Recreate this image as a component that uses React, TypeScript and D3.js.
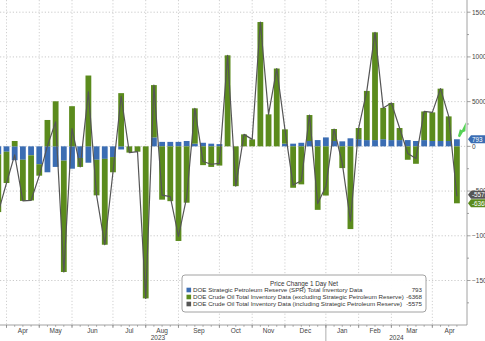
import React from "react";
import * as d3 from "d3";

const W = 485;
const H = 341;

// weekly categories: first (partially visible) bar is dated 2023-03-31, one bar per week
const FIRST_WEEK = new Date(2023, 2, 31);

// DOE Strategic Petroleum Reserve weekly change (thousand bbl)
const sprChange = [
  -900, -600, -1550, -1500, -1000, -2000, -2900, -2300, -1600, -2500,
  -1300, -1830, -1500, -1400, -1200, -350, 0, 0, 0, 1000,
  500, 500, 500, 600, 300, 400, 300, 250, 0, 0,
  0, 0, 0, 0, 0, 300, 300, 400, 600, 700,
  1000, 600, 560, 900, 800, 700, 700, 800, 700, 700,
  700, 600, 700, 600, 600, 600, 793,
];

// DOE crude oil total inventory excluding SPR, weekly change (thousand bbl)
const crudeExSpr = [
  -6450, -3500, 600, -4600, -5050, -1280, 2950, 5040, -12450, 4490,
  -1000, 7920, -3980, -9600, -1700, 5950, -700, -600, -17000, 5850,
  -5960, -6130, -10580, -6300, 3950, -2100, -2300, -2150, 10180, -4450,
  1340, 780, 13900, 3580, 8700, 1600, -4630, -4250, 2900, -7100,
  -5500, 1340, -2430, -9250, 1250, 5500, 12050, 3500, 4150, 1350,
  -1500, -1950, 3200, 3200, 5850, 2750, -6368,
];

const yTicks = [-15000, -10000, -5000, 0, 5000, 10000, 15000];
const legendTitle = "Price Change 1 Day Net";
const seriesNames = [
  "DOE Strategic Petroleum Reserve (SPR) Total Inventory Data",
  "DOE Crude Oil Total Inventory Data (excluding Strategic Petroleum Reserve)",
  "DOE Crude Oil Total Inventory Data (including Strategic Petroleum Reserve)",
];
const lastValues = [793, -6368, -5575];

const BLUE = "#3b6db3";
const GREEN = "#5b8b1d";
const GREY = "#555555";
const FONT = "Liberation Sans, Arial, sans-serif";

export default function App() {
  const dates = sprChange.map((_, i) => d3.timeDay.offset(FIRST_WEEK, 7 * i));
  const totals = sprChange.map((s, i) => s + crudeExSpr[i]);

  const plotRight = 467;
  const axisY = 325;

  const x = d3
    .scaleTime()
    .domain([dates[1], dates[dates.length - 1]])
    .range([6.5, 456.9]);
  const y = d3.scaleLinear().domain([-15000, 15000]).range([280.5, 12.2]);

  const bw = 5.8;

  // stacked segments
  const segs: { x: number; y0: number; y1: number; c: string }[] = [];
  dates.forEach((d, i) => {
    const s = sprChange[i];
    const e = crudeExSpr[i];
    const xc = x(d);
    if (s !== 0) segs.push({ x: xc, y0: 0, y1: s, c: BLUE });
    if (e !== 0) {
      const base = Math.sign(e) === Math.sign(s) ? s : 0;
      segs.push({ x: xc, y0: base, y1: base + e, c: GREEN });
    }
  });

  const line = d3
    .line<number>()
    .x((_, i) => x(dates[i]))
    .y((v) => y(v));

  // month gridlines: first bar of each month
  const monthIdx: number[] = [];
  dates.forEach((d, i) => {
    if (i > 0 && d.getMonth() !== dates[i - 1].getMonth()) monthIdx.push(i);
  });
  const gridX = monthIdx.map((i) => x(dates[i]));
  const monthLabels = monthIdx.map((i, k) => ({
    text: d3.timeFormat("%b")(dates[i]),
    x: (gridX[k] + (k + 1 < gridX.length ? gridX[k + 1] : plotRight)) / 2,
  }));
  const janK = monthIdx.findIndex((i) => dates[i].getMonth() === 0);
  const sepX = gridX[janK];
  const years = [
    { text: String(dates[monthIdx[0]].getFullYear()), x: (-10 + sepX) / 2 },
    { text: String(dates[monthIdx[janK]].getFullYear()), x: (sepX + plotRight) / 2 },
  ];

  const minorTicks = d3.range(-20000, 17501, 2500).filter((v) => y(v) >= 0 && y(v) <= axisY);

  const greenTagY = y(lastValues[1]);
  const greyTagY = Math.min(y(lastValues[2]), greenTagY - 8.5);
  const tags = [
    { y: y(lastValues[0]), text: String(lastValues[0]), c: BLUE },
    { y: greyTagY, text: String(lastValues[2]), c: GREY },
    { y: greenTagY, text: String(lastValues[1]), c: GREEN },
  ];
  const tagPath = (cy: number) =>
    `M${plotRight + 1},${cy} L${plotRight + 4},${cy - 4} L${W + 2},${cy - 4} L${W + 2},${cy + 4} L${plotRight + 4},${cy + 4} Z`;

  const lastX = x(dates[dates.length - 1]);
  const lastTopY = y(sprChange[sprChange.length - 1]);

  const legendX = 182;
  const legendW = 244;
  const legendY = 275;
  const rowY = [292.3, 299.3, 306.3];
  const legendColors = [BLUE, GREEN, GREY];

  return (
    <svg
      width={W}
      height={H}
      style={{ position: "absolute", left: 0, top: 0, background: "#fff" }}
      fontFamily={FONT}
    >
      {/* horizontal gridlines */}
      {yTicks.map((t) => (
        <line
          key={"hg" + t}
          x1={0}
          x2={plotRight}
          y1={y(t)}
          y2={y(t)}
          stroke="#bdbdbd"
          strokeWidth={0.8}
          strokeDasharray="1.2,2"
        />
      ))}
      {/* vertical gridlines */}
      {gridX.map((gx, k) => (
        <line
          key={"vg" + k}
          x1={gx}
          x2={gx}
          y1={0}
          y2={axisY}
          stroke="#c4c4c4"
          strokeWidth={0.8}
          strokeDasharray="1.2,2"
        />
      ))}

      {/* bars */}
      {segs.map((s, i) => (
        <rect
          key={"b" + i}
          x={s.x - bw / 2}
          width={bw}
          y={Math.min(y(s.y0), y(s.y1))}
          height={Math.abs(y(s.y1) - y(s.y0))}
          fill={s.c}
        />
      ))}

      {/* total line */}
      <path d={line(totals) || ""} fill="none" stroke={GREY} strokeWidth={1.2} strokeLinejoin="round" />

      {/* green marker */}
      <path
        d={`M${lastX + 1},${lastTopY - 3} L${lastX + 3},${lastTopY - 10} L${lastX + 5},${lastTopY - 9} L${lastX + 9},${lastTopY - 17} L${lastX + 8.5},${lastTopY - 8} L${lastX + 6},${lastTopY - 7} L${lastX + 3},${lastTopY - 2} Z`}
        fill="#44cc44"
        opacity={0.9}
      />

      {/* x axis */}
      <line x1={0} x2={plotRight} y1={axisY} y2={axisY} stroke="#8a8a8a" strokeWidth={0.8} />
      {dates.map((d, i) => (
        <line key={"xt" + i} x1={x(d)} x2={x(d)} y1={axisY} y2={axisY + 1.8} stroke="#8a8a8a" strokeWidth={0.7} />
      ))}
      {gridX.map((gx, k) => (
        <line key={"mt" + k} x1={gx} x2={gx} y1={axisY} y2={axisY + 3} stroke="#8a8a8a" strokeWidth={0.8} />
      ))}
      <line x1={sepX} x2={sepX} y1={axisY} y2={H} stroke="#9a9a9a" strokeWidth={0.8} />
      {monthLabels.map((m, k) => (
        <text key={"ml" + k} x={m.x} y={333} fontSize={6.5} fill="#444" textAnchor="middle">
          {m.text}
        </text>
      ))}
      {years.map((yr) => (
        <text key={yr.text} x={yr.x} y={340} fontSize={6.5} fill="#444" textAnchor="middle">
          {yr.text}
        </text>
      ))}

      {/* right axis */}
      <line x1={plotRight} x2={plotRight} y1={0} y2={axisY} stroke="#8a8a8a" strokeWidth={0.8} />
      {minorTicks.map((v) => (
        <line
          key={"yt" + v}
          x1={plotRight}
          x2={plotRight + (v % 5000 === 0 ? 3.5 : 2)}
          y1={y(v)}
          y2={y(v)}
          stroke="#8a8a8a"
          strokeWidth={0.8}
        />
      ))}
      {yTicks.map((t) => (
        <text key={"yl" + t} x={472} y={y(t) + 2.3} fontSize={6.5} fill="#444">
          {d3.format("d")(t)}
        </text>
      ))}

      {/* last value tags */}
      {tags.map((t) => (
        <g key={"tag" + t.text}>
          <path d={tagPath(t.y)} fill={t.c} />
          <text x={plotRight + 5} y={t.y + 2.3} fontSize={6.3} fill="#fff">
            {t.text}
          </text>
        </g>
      ))}

      {/* legend */}
      <rect
        x={legendX}
        y={legendY}
        width={legendW}
        height={37}
        rx={3}
        fill="#fff"
        fillOpacity={0.95}
        stroke="#8c8c8c"
        strokeWidth={0.8}
      />
      <text x={legendX + legendW / 2} y={285.5} fontSize={6.3} fill="#333" textAnchor="middle">
        {legendTitle}
      </text>
      {seriesNames.map((name, i) => (
        <g key={"lg" + i}>
          <rect x={186.5} y={rowY[i] - 4.6} width={4.6} height={4.6} fill={legendColors[i]} />
          <text x={193} y={rowY[i]} fontSize={6.2} fill="#333">
            {name}
          </text>
          <text x={422} y={rowY[i]} fontSize={6.2} fill="#333" textAnchor="end">
            {lastValues[i === 0 ? 0 : i === 1 ? 1 : 2]}
          </text>
        </g>
      ))}
    </svg>
  );
}
